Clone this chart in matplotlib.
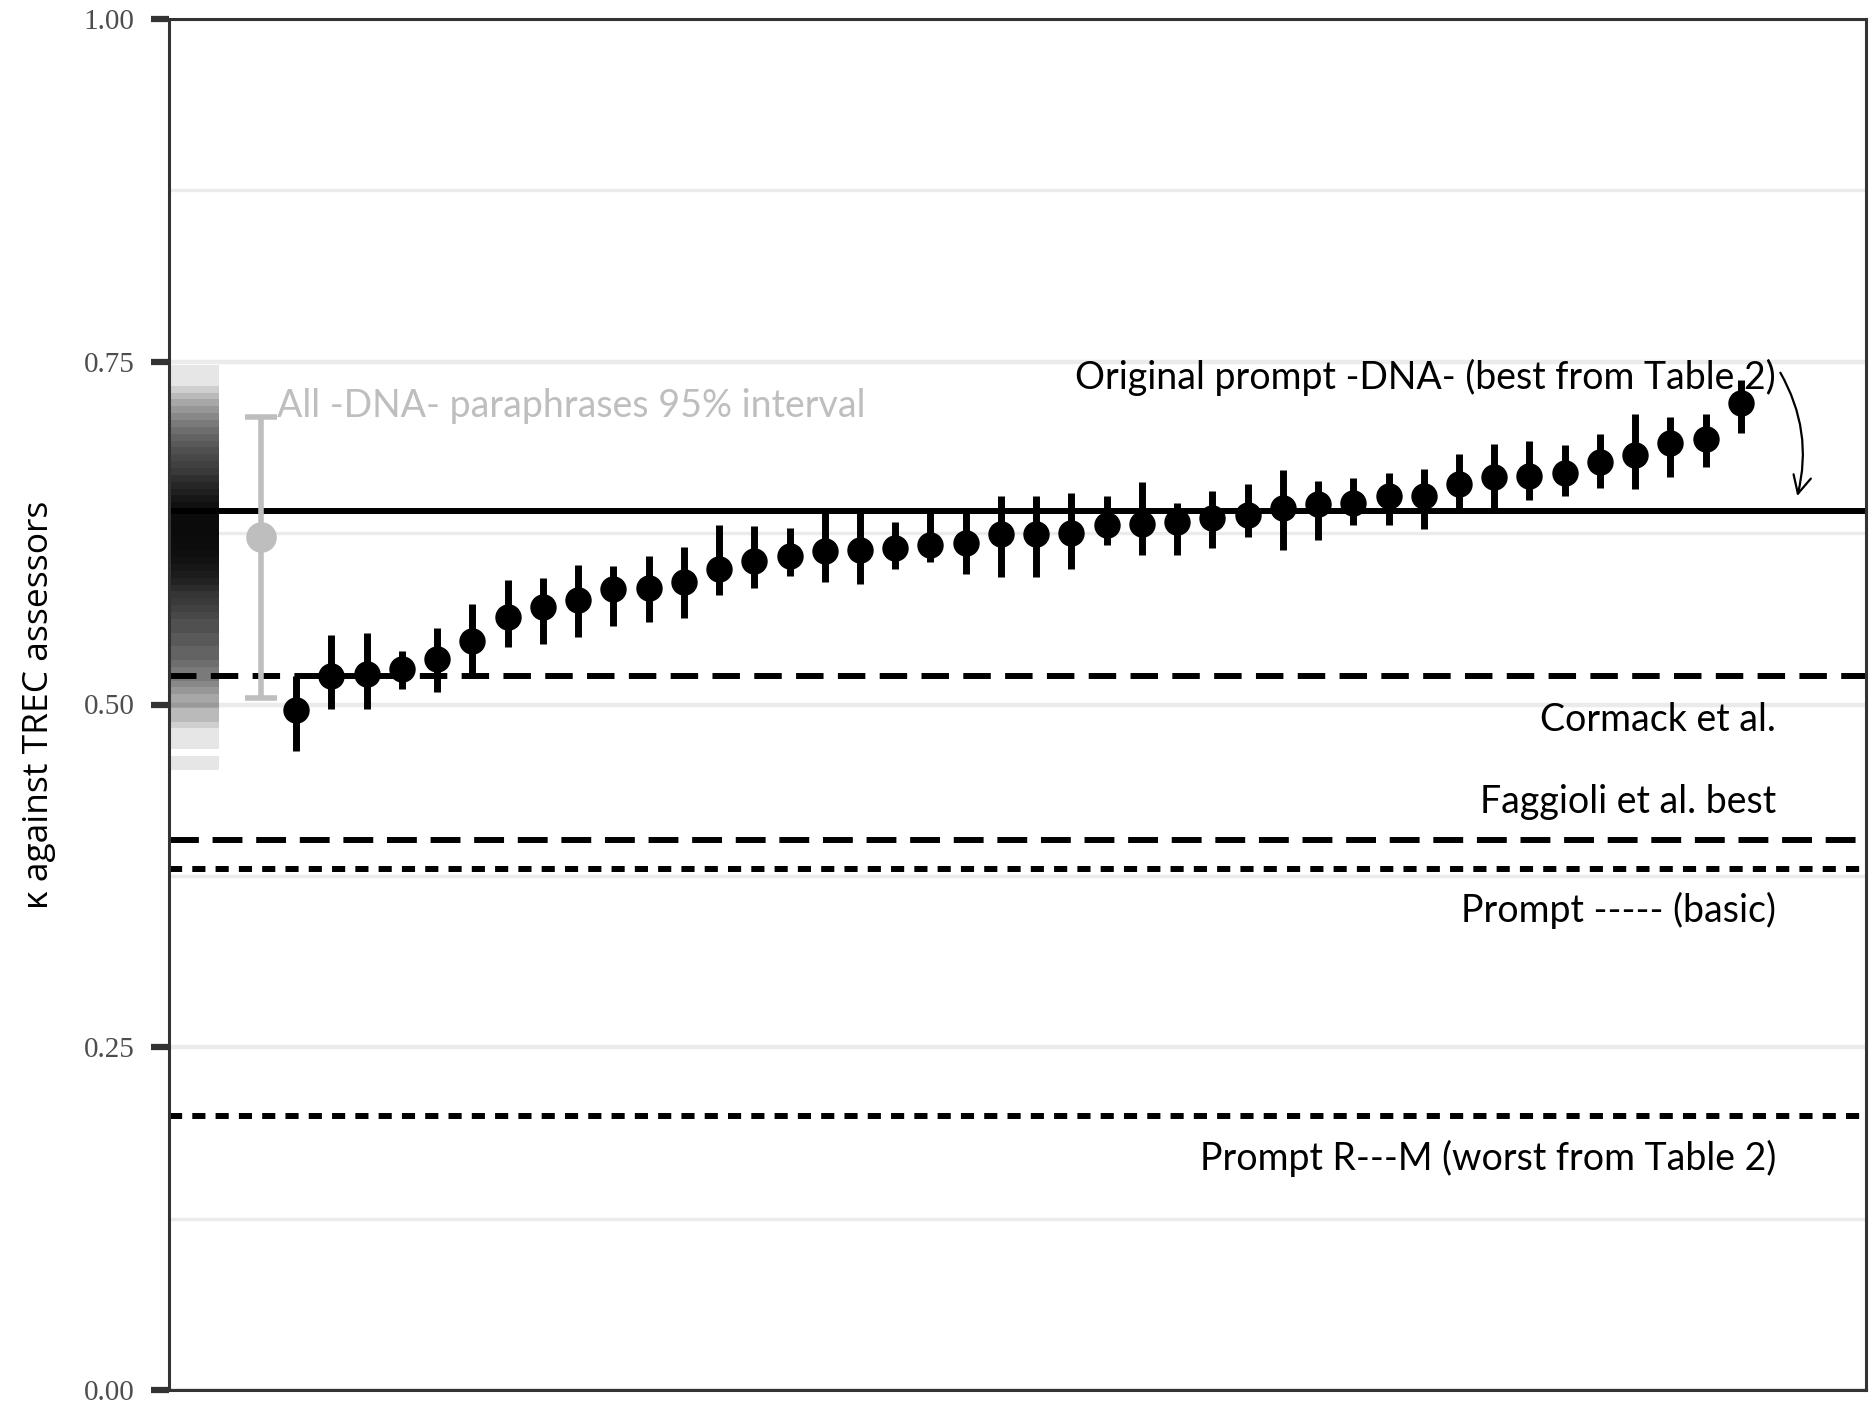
import matplotlib
matplotlib.use("Agg")
import matplotlib.pyplot as plt
from matplotlib.ticker import FixedLocator

# ---------------- data ----------------
# 42 paraphrases of the -DNA- prompt, sorted by kappa (mean, 95% CI low/high)
kappa_mean = [0.496, 0.521, 0.522, 0.526, 0.533, 0.546, 0.564, 0.571, 0.576, 0.584,
              0.585, 0.589, 0.599, 0.605, 0.608, 0.612, 0.613, 0.614, 0.616, 0.618,
              0.624, 0.624, 0.625, 0.631, 0.632, 0.633, 0.636, 0.638, 0.643, 0.646,
              0.647, 0.652, 0.652, 0.661, 0.666, 0.667, 0.669, 0.677, 0.682, 0.691,
              0.694, 0.720]
kappa_lo = [0.466, 0.497, 0.497, 0.511, 0.509, 0.523, 0.542, 0.544, 0.549, 0.557,
            0.560, 0.563, 0.580, 0.585, 0.594, 0.589, 0.588, 0.599, 0.604, 0.595,
            0.593, 0.593, 0.599, 0.616, 0.609, 0.609, 0.614, 0.622, 0.613, 0.620,
            0.631, 0.631, 0.628, 0.642, 0.641, 0.649, 0.652, 0.658, 0.657, 0.666,
            0.673, 0.698]
kappa_hi = [0.521, 0.551, 0.552, 0.539, 0.556, 0.573, 0.591, 0.592, 0.602, 0.601,
            0.608, 0.615, 0.631, 0.630, 0.629, 0.641, 0.641, 0.633, 0.641, 0.641,
            0.652, 0.652, 0.654, 0.652, 0.662, 0.647, 0.656, 0.661, 0.671, 0.663,
            0.665, 0.669, 0.672, 0.683, 0.690, 0.692, 0.689, 0.697, 0.712, 0.710,
            0.712, 0.737]

# All paraphrases: mean and 95% interval
all_mean = 0.622
all_lo = 0.505
all_hi = 0.710

# Distribution of all paraphrase kappas (value bins and counts, read from strip)
rug_values = [0.455, 0.460, 0.465, 0.470, 0.475, 0.480, 0.485, 0.490, 0.495, 0.500,
              0.505, 0.510, 0.515, 0.520, 0.525, 0.530, 0.535, 0.540, 0.545, 0.550,
              0.555, 0.560, 0.565, 0.570, 0.575, 0.580, 0.585, 0.590, 0.595, 0.600,
              0.605, 0.610, 0.615, 0.620, 0.625, 0.630, 0.635, 0.640, 0.645, 0.650,
              0.655, 0.660, 0.665, 0.670, 0.675, 0.680, 0.685, 0.690, 0.695, 0.700,
              0.705, 0.710, 0.715, 0.720, 0.725, 0.730, 0.735, 0.740, 0.745]
rug_counts = [1, 1, 0, 1, 1, 1, 2, 3, 3, 4,
              4, 5, 6, 7, 7, 8, 9, 9, 10, 10,
              11, 11, 12, 13, 14, 15, 17, 19, 21, 23,
              25, 27, 28, 29, 30, 30, 30, 29, 26, 23,
              20, 18, 16, 14, 13, 12, 11, 10, 9, 8,
              7, 6, 5, 4, 3, 2, 1, 1, 1]

# Reference kappas
ref_original = 0.641   # Original prompt -DNA-
ref_cormack = 0.521
ref_faggioli = 0.401
ref_basic = 0.380
ref_worst = 0.200

ref_labels = {
    "original": "Original prompt -DNA- (best from Table 2)",
    "cormack": "Cormack et al.",
    "faggioli": "Faggioli et al. best",
    "basic": "Prompt ----- (basic)",
    "worst": "Prompt R---M (worst from Table 2)",
}
interval_label = "All -DNA- paraphrases 95% interval"
ylabel = "κ against TREC assessors"
yticks = [0.0, 0.25, 0.5, 0.75, 1.0]
ytick_labels = ["0.00", "0.25", "0.50", "0.75", "1.00"]
yminor = [0.125, 0.375, 0.625, 0.875]

# ---------------- figure ----------------
W, H = 1870, 1405
fig = plt.figure(figsize=(W / 100, H / 100), dpi=100)
ax = fig.add_axes([169 / W, 1 - 1390 / H, (1866 - 169) / W, (1390 - 19) / H])

ANN_FONT = ["Lato", "DejaVu Sans"]
AX_DARK = "#333333"

ax.set_xlim(-2.61, 45.55)
ax.set_ylim(0, 1)

# grid
ax.yaxis.set_major_locator(FixedLocator(yticks))
ax.yaxis.set_minor_locator(FixedLocator(yminor))
ax.set_yticklabels(ytick_labels)
ax.grid(axis="y", which="major", color="#ebebeb", linewidth=3.2, zorder=0)
ax.grid(axis="y", which="minor", color="#ebebeb", linewidth=2.4, zorder=0)
ax.set_axisbelow(True)
ax.set_xticks([])

# strip of all paraphrases
alphas = [1 - (0.9 ** c) for c in rug_counts]
ax.barh(rug_values, width=1.39, left=-2.58, height=0.005,
        color=[(0, 0, 0, a) for a in alphas], linewidth=0, zorder=1)

# reference lines
lw = 4.3
ax.axhline(ref_original, color="black", linewidth=lw, zorder=2)
ax.axhline(ref_cormack, color="black", linewidth=lw, linestyle=(0, (4.6, 2.4)), zorder=2)
ax.axhline(ref_faggioli, color="black", linewidth=lw, linestyle=(0, (5.0, 2.3)), zorder=2)
ax.axhline(ref_basic, color="black", linewidth=lw, linestyle=(0, (2.2, 1.7)), zorder=2)
ax.axhline(ref_worst, color="black", linewidth=lw, linestyle=(0, (2.2, 1.7)), zorder=2)

# grey interval for all paraphrases
ax.errorbar([0], [all_mean], yerr=[[all_mean - all_lo], [all_hi - all_mean]],
            fmt="o", color="#bebebe", markersize=21, elinewidth=4.0,
            capsize=11.5, capthick=4.0, zorder=3)

# paraphrase points
xs = list(range(1, len(kappa_mean) + 1))
yerr_lo = [m - l for m, l in zip(kappa_mean, kappa_lo)]
yerr_hi = [h - m for m, h in zip(kappa_mean, kappa_hi)]
ax.errorbar(xs, kappa_mean, yerr=[yerr_lo, yerr_hi], fmt="o", color="black",
            markersize=18, elinewidth=5.0, capsize=0, zorder=4)

# text annotations
fs = 27
tx = 43.0
ax.text(0.45, all_hi, interval_label, color="#bebebe", fontsize=fs,
        family=ANN_FONT, ha="left", va="baseline", zorder=5)
ax.text(tx, 0.730, ref_labels["original"], fontsize=fs, family=ANN_FONT,
        ha="right", va="baseline", zorder=5)
ax.text(tx, 0.481, ref_labels["cormack"], fontsize=fs, family=ANN_FONT,
        ha="right", va="baseline", zorder=5)
ax.text(tx, 0.421, ref_labels["faggioli"], fontsize=fs, family=ANN_FONT,
        ha="right", va="baseline", zorder=5)
ax.text(tx, 0.341, ref_labels["basic"], fontsize=fs, family=ANN_FONT,
        ha="right", va="baseline", zorder=5)
ax.text(tx, 0.1605, ref_labels["worst"], fontsize=fs, family=ANN_FONT,
        ha="right", va="baseline", zorder=5)

ax.annotate("", xy=(43.6, 0.652), xytext=(43.12, 0.742),
            arrowprops=dict(arrowstyle="->", lw=1.6, color="black",
                            connectionstyle="arc3,rad=-0.2", mutation_scale=32,
                            shrinkA=0, shrinkB=0), zorder=5)

# spines and ticks
for s in ax.spines.values():
    s.set_color(AX_DARK)
    s.set_linewidth(2.2)
ax.tick_params(axis="y", which="major", length=13, width=4.5, color=AX_DARK,
               pad=12, labelsize=21, labelcolor="#4d4d4d")
ax.tick_params(axis="y", which="minor", length=0)
for lab in ax.get_yticklabels():
    lab.set_family(["Liberation Serif", "DejaVu Serif"])

ax.set_ylabel(ylabel, fontsize=25.5, family=["Open Sans", "DejaVu Sans"], labelpad=20)

fig.savefig("out.png", dpi=100)
